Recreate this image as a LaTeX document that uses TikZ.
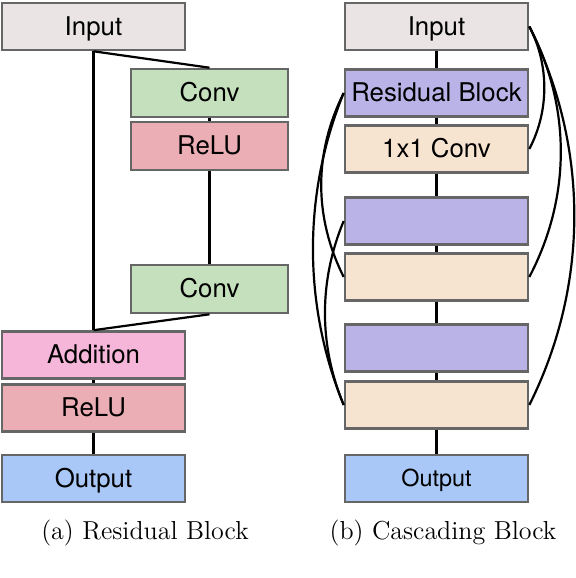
\documentclass[tikz,border=0pt]{standalone}
\usepackage{fontspec}
\newfontfamily\boxfont{TeX Gyre Heros}
\usepackage{tikz}
\usetikzlibrary{calc}

\definecolor{inputgray}{HTML}{EAE4E4}
\definecolor{convgreen}{HTML}{C5E0BD}
\definecolor{relured}{HTML}{EBAEB5}
\definecolor{addpink}{HTML}{F5B6D9}
\definecolor{outblue}{HTML}{A9C8F7}
\definecolor{resblue}{HTML}{B9B3E8}
\definecolor{onetan}{HTML}{F7E4D0}
\definecolor{edgegray}{HTML}{666666}

\tikzset{
  block/.style={draw=edgegray, line width=1.3pt, rectangle, inner sep=0pt,
                minimum width=91.5pt, minimum height=23.5pt,
                text height=8.6pt, text depth=0pt,
                font=\boxfont\fontsize{12.9}{15}\selectfont},
  smallblock/.style={block, minimum width=78.5pt, minimum height=24pt},
  link/.style={line width=1.1pt, black},
  caption/.style={font=\fontsize{13}{15}\selectfont}
}

\begin{document}
\begin{tikzpicture}[x=0.5pt, y=-0.5pt]
    \useasboundingbox (0,0) rectangle (576,578);

    % (a) residual block
    \node[block, fill=inputgray] (inA)   at (93.5, 26.5) {Input};
    \node[smallblock, fill=convgreen] (convA) at (209.5, 93) {Conv};
    \node[smallblock, fill=relured]   (reluA) at (209.5, 146) {ReLU};
    \node[smallblock, fill=convgreen] (convB) at (209.5, 289) {Conv};
    \node[block, fill=addpink] (addA)  at (93.5, 355) {Addition};
    \node[block, fill=relured] (reluB) at (93.5, 408) {ReLU};
    \node[block, fill=outblue] (outA)  at (93.5, 478.5) {Output};
    \node[caption] (capA) at (145, 533) {(a) Residual Block};

    \draw[link] (inA.south) -- (addA.north);
    \draw[link] (inA.south) -- (convA.north);
    \draw[link] (convA) -- (reluA);
    \draw[link] (reluA) -- (convB);
    \draw[link] (convB.south) -- (addA.north);
    \draw[link] (addA) -- (reluB);
    \draw[link] (reluB) -- (outA);

    % (b) cascading block
    \node[block, fill=inputgray] (inB) at (436.5, 26.5) {Input};
    \node[block, fill=resblue]  (rbA) at (436.5, 93)  {Residual Block};
    \node[block, fill=onetan]   (cvA) at (436.5, 149) {1x1 Conv};
    \node[block, fill=resblue]  (rbB) at (436.5, 221) {};
    \node[block, fill=onetan]   (cvB) at (436.5, 277) {};
    \node[block, fill=resblue]  (rbC) at (436.5, 348) {};
    \node[block, fill=onetan]   (cvC) at (436.5, 405) {};
    \node[block, fill=outblue, text height=7.8pt, font=\boxfont\fontsize{11.7}{14}\selectfont] (outB) at (436.5, 478.5) {Output};
    \node[caption] (capB) at (443, 533) {(b) Cascading Block};

    \draw[link] (inB) -- (rbA);
    \draw[link] (rbA) -- (cvA);
    \draw[link] (cvA) -- (rbB);
    \draw[link] (rbB) -- (cvB);
    \draw[link] (cvB) -- (rbC);
    \draw[link] (rbC) -- (cvC);
    \draw[link] (cvC) -- (outB);

    % global skips on the right
    \draw[link] (inB.east) .. controls +(20,38) and +(20,-38) .. (cvA.east);
    \draw[link] (inB.east) .. controls +(42,80) and +(42,-80) .. (cvB.east);
    \draw[link] (inB.east) .. controls +(60,120) and +(60,-120) .. (cvC.east);

    % local skips on the left
    \draw[link] (rbA.west) .. controls +(-30,60) and +(-30,-60) .. (cvB.west);
    \draw[link] (rbA.west) .. controls +(-41,100) and +(-41,-100) .. (cvC.west);
    \draw[link] (rbB.west) .. controls +(-25,60) and +(-25,-60) .. (cvC.west);
\end{tikzpicture}
\end{document}
